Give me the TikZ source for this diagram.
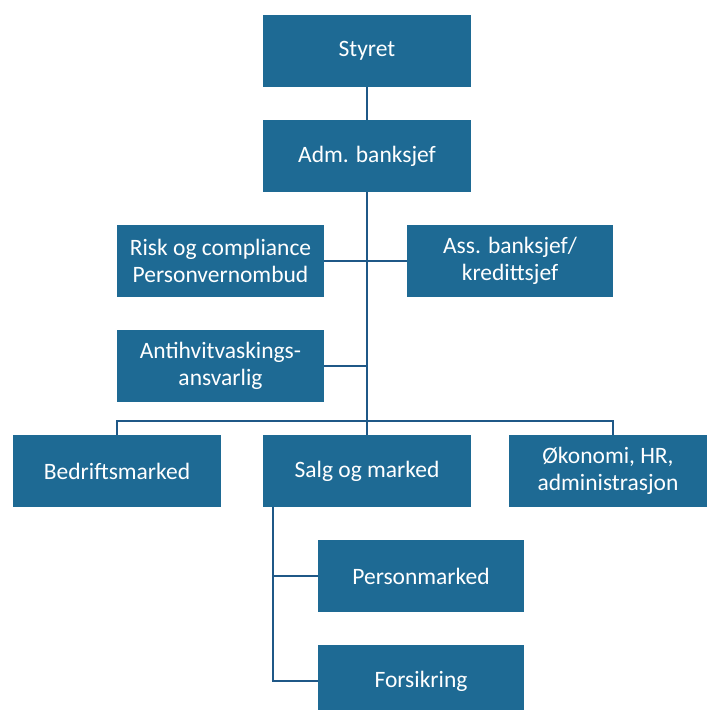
\documentclass[tikz,border=0pt]{standalone}
\usepackage{fontspec}
\setmainfont{Carlito}
\usepackage{tikz}
\definecolor{orgblue}{RGB}{30,106,148}
\definecolor{orgline}{RGB}{31,88,135}

\begin{document}
\begin{tikzpicture}[x=1pt, y=-1pt,
  orgbox/.style = {fill = orgblue, text = white, minimum width = 208pt, minimum height = 72pt, align = center, inner sep = 0pt, font = \fontsize{23.5}{27}\selectfont},
  orgedge/.style = {draw = orgline, line width = 1.4pt}]
\useasboundingbox (0,0) rectangle (707,710);
\clip (0,0) rectangle (707,710);
\node [orgbox] (styret) at (367,51) {Styret};
\node [orgbox] (adm) at (367,156) {Adm. banksjef};
\node [orgbox, minimum width = 207pt] (risk) at (220.5,261) {Risk og compliance\\Personvernombud};
\node [orgbox, minimum width = 206pt] (ass) at (510,261) {Ass. banksjef/\\kredittsjef};
\node [orgbox, minimum width = 207pt] (anti) at (220.5,366) {Antihvitvaskings-\\ansvarlig};
\node [orgbox] (bedrift) at (117,471) {Bedriftsmarked};
\node [orgbox] (salg) at (367,471) {Salg og marked};
\node [orgbox] (okonomi) at (613,471) {\hspace*{-10pt}Økonomi, HR,\\\hspace*{-10pt}administrasjon};
\node [orgbox, minimum width = 206pt] (person) at (421,576) {Personmarked};
\node [orgbox, minimum width = 206pt] (forsikring) at (421,681) {Forsikring};
\coordinate (bus) at (367,421);
\coordinate (sb) at (273,507);
\draw [orgedge] (styret) -- (adm);
\draw [orgedge] (adm.south) -- (bus);
\draw [orgedge] (risk.east) -- (ass.west);
\draw [orgedge] (anti.east) -- (anti.east -| adm.south);
\draw [orgedge] (bedrift.north) |- (bus) -| (okonomi.north);
\draw [orgedge] (bus) -- (salg.north);
\draw [orgedge] (sb) |- (forsikring.west);
\draw [orgedge] (sb |- person.west) -- (person.west);
\end{tikzpicture}
\end{document}
